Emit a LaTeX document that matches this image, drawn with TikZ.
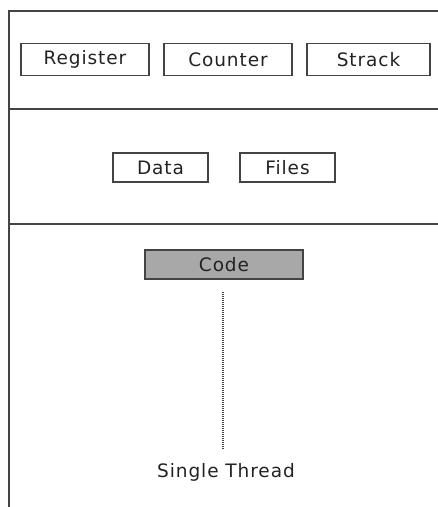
\documentclass[tikz,border=0pt]{standalone}
\usepackage{fontspec}
\setmainfont{DejaVu Sans}[LetterSpace=5]
\definecolor{framec}{HTML}{444444}
\definecolor{inkc}{HTML}{222222}
\definecolor{codefill}{HTML}{A8A8A8}
\begin{document}
\begin{tikzpicture}[x=1pt,y=-1pt,
  labelfont/.style={font=\fontsize{18.5}{19}\selectfont},
  frameline/.style={draw=framec,line width=1.5pt},
  membox/.style={draw=framec,line width=1.4pt,inner sep=0pt,
    text=inkc,labelfont,minimum height=32pt},
  smallbox/.style={membox,minimum height=29pt,minimum width=95pt},
  threadline/.style={draw=framec,line width=1.2pt,dash pattern=on 1pt off 1pt}]
  \useasboundingbox (0,0) rectangle (438,507);
  % outer frame and section dividers
  \draw[frameline] (9,507) -- (9,11) -- (438,11);
  \draw[frameline] (9,109) -- (438,109);
  \draw[frameline] (9,224) -- (438,224);
  % per-thread registers
  \node[membox,minimum width=128pt] (register) at (85,59.5) {\raisebox{1pt}{Register}};
  \node[membox,minimum width=128pt] (counter) at (228,59.5) {Counter};
  \node[membox,minimum width=123pt] (strack) at (368.5,59.5) {Strack};
  % shared resources
  \node[smallbox] (data) at (160.5,167.5) {Data};
  \node[smallbox] (files) at (287.5,167.5) {Files};
  % code segment
  \node[smallbox,minimum width=158pt,fill=codefill] (code) at (224,264.5) {Code};
  % thread of execution
  \node[text=inkc,labelfont,anchor=base,inner sep=0pt]
    (thread) at (226,477) {Single Thread};
  \coordinate (tstart) at (223,292);
  \coordinate (tend) at (223,450);
  \draw[threadline] (tstart) -- (tend);
\end{tikzpicture}
\end{document}
